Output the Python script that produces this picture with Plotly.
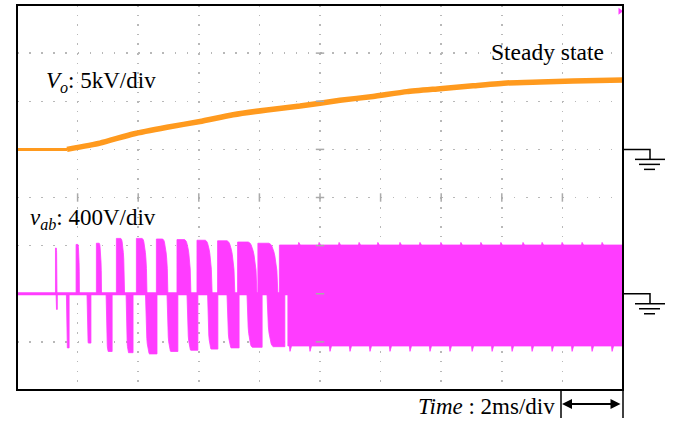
import numpy as np
import plotly.graph_objects as go

# ---------------- data ----------------
TIME_PER_DIV_MS = 2.0
VO_PER_DIV_KV = 5.0
VAB_PER_DIV_V = 400.0
VO_GROUND_DIV = 1.0
VAB_GROUND_DIV = -2.0

# output voltage Vo (kV) vs time (ms)
vo_t_ms = [0.0, 1.65, 2.74, 3.83, 4.95, 6.04, 7.13, 8.25, 9.34, 10.66,
           11.75, 12.87, 13.96, 15.05, 16.17, 17.26, 18.35, 20.0]
vo_kV = [0.0, 0.0, 0.65, 1.6, 2.3, 2.9, 3.6, 4.1, 4.5, 5.1,
         5.5, 6.0, 6.3, 6.6, 6.9, 7.0, 7.1, 7.2]

# vab bursts during start-up (ms, V)
pos_start_ms = [1.27, 1.95, 2.62, 3.28, 3.94, 4.60, 5.28, 5.94, 6.62, 7.28, 7.95]
pos_end_ms = [1.32, 2.06, 2.79, 3.55, 4.29, 4.98, 5.74, 6.44, 7.19, 7.92, 8.61]
pos_amp_V = [380, 410, 420, 460, 460, 455, 450, 445, 440, 430, 420]

neg_start_ms = [1.29, 1.63, 2.31, 2.94, 3.60, 4.24, 4.95, 5.61, 6.29, 6.93, 7.59, 8.25]
neg_end_ms = [1.33, 1.72, 2.44, 3.14, 3.83, 4.62, 5.31, 5.97, 6.63, 7.33, 8.09, 8.84]
neg_amp_V = [130, 450, 410, 480, 490, 500, 480, 470, 460, 450, 445, 440]

# steady switching band
steady_pos_start_ms = 8.66
steady_neg_start_ms = 8.94
steady_pos_V = 405
steady_neg_V = 434
top_bump_ms = [9.3, 9.97, 10.63, 11.29, 11.91, 12.64, 13.30, 13.99, 14.65, 15.31,
               15.97, 16.70, 17.33, 17.99, 18.65, 19.31]
bottom_spike_ms = [9.01, 9.67, 10.33, 10.99, 11.65, 12.31, 12.97, 13.63, 14.29, 15.02,
                   15.68, 16.34, 17.00, 17.66, 18.32, 18.98, 19.64]

ORANGE = "#ff9a1e"
MAGENTA = "#ff3cff"
FONT = "Liberation Serif"

W, H = 679, 421
L, R, T, B = 17, 56, 5, 31
PW, PH = W - L - R, H - T - B


def vo_div(v):
    return VO_GROUND_DIV + v / VO_PER_DIV_KV


def vab_div(v):
    return VAB_GROUND_DIV + v / VAB_PER_DIV_V


# ---------------- build vab burst polygons ----------------
px, py = [], []
s = np.linspace(0, 1, 10)
for t0, t1, a in zip(pos_start_ms, pos_end_ms, pos_amp_V):
    tf = t0 + 0.55 * (t1 - t0)
    px += [t0, t0, tf] + list(tf + s * (t1 - tf)) + [t0, None]
    py += [vab_div(0), vab_div(a), vab_div(a)] + list(vab_div(a * np.sqrt(1 - s ** 2))) + [vab_div(0), None]

for t0, t1, a in zip(neg_start_ms, neg_end_ms, neg_amp_V):
    tr = t0 + 0.35 * (t1 - t0)
    px += [t0] + list(t0 + s * (tr - t0)) + [t1, t1, None]
    py += [vab_div(0)] + list(vab_div(-a * np.sqrt(1 - (1 - s) ** 2))) + [vab_div(-a), vab_div(0), None]

# steady positive band with overshoot bumps
bx = [steady_pos_start_ms, steady_pos_start_ms]
by = [vab_div(0), vab_div(steady_pos_V)]
for tb in top_bump_ms:
    bx += [tb - 0.02, tb, tb + 0.05]
    by += [vab_div(steady_pos_V), vab_div(steady_pos_V + 22), vab_div(steady_pos_V)]
bx += [20, 20, None]
by += [vab_div(steady_pos_V), vab_div(0), None]
px += bx
py += by

# steady negative band with spikes
bx = [steady_neg_start_ms, steady_neg_start_ms]
by = [vab_div(0), vab_div(-steady_neg_V)]
for tb in bottom_spike_ms:
    bx += [tb - 0.02, tb, tb + 0.05]
    by += [vab_div(-steady_neg_V), vab_div(-steady_neg_V - 45), vab_div(-steady_neg_V)]
bx += [20, 20, None]
by += [vab_div(-steady_neg_V), vab_div(0), None]
px += bx
py += by

fig = go.Figure()

fig.add_trace(go.Scatter(x=px, y=py, mode="lines", fill="toself", fillcolor=MAGENTA,
                         line=dict(color=MAGENTA, width=0.8), hoverinfo="skip"))
# vab baseline
fig.add_trace(go.Scatter(x=[0, 20], y=[vab_div(0), vab_div(0)], mode="lines",
                         line=dict(color=MAGENTA, width=3), hoverinfo="skip"))

# Vo trace
vo_y = [vo_div(v) for v in vo_kV]
fig.add_trace(go.Scatter(x=vo_t_ms[:2], y=vo_y[:2], mode="lines",
                         line=dict(color=ORANGE, width=3)))
fig.add_trace(go.Scatter(x=vo_t_ms[1:], y=vo_y[1:], mode="lines",
                         line=dict(color=ORANGE, width=5.5, shape="spline", smoothing=0.5)))

# centre-line major ticks
fig.add_trace(go.Scatter(x=[TIME_PER_DIV_MS * k for k in range(1, 10)], y=[0] * 9, mode="markers",
                         marker=dict(symbol="line-ns", size=6, line=dict(color="#aaaaaa", width=1.5)),
                         hoverinfo="skip"))
fig.add_trace(go.Scatter(x=[10] * 7, y=list(range(-3, 4)), mode="markers",
                         marker=dict(symbol="line-ew", size=6, line=dict(color="#aaaaaa", width=1.5)),
                         hoverinfo="skip"))
# trigger marker
fig.add_trace(go.Scatter(x=[19.9], y=[3.87], mode="markers",
                         marker=dict(symbol="triangle-right", size=6, color=MAGENTA), hoverinfo="skip"))


def pxX(x):
    return (x - L) / PW


def pxY(y):
    return (H - B - y) / PH


shapes = [dict(type="rect", xref="paper", yref="paper", x0=0, x1=1, y0=0, y1=1,
               line=dict(color="black", width=2))]
# scale bar verticals below frame
for xx in (561, 623):
    shapes.append(dict(type="line", xref="paper", yref="paper", x0=pxX(xx), x1=pxX(xx),
                       y0=pxY(390), y1=pxY(418), line=dict(color="black", width=1.5)))
# ground symbols
for gdiv in (VO_GROUND_DIV, VAB_GROUND_DIV):
    gy = T + (4 - gdiv) / 8 * PH
    shapes.append(dict(type="path", xref="paper", yref="paper",
                       path=f"M{pxX(623)},{pxY(gy)} L{pxX(650)},{pxY(gy)} L{pxX(650)},{pxY(gy + 10)}",
                       line=dict(color="black", width=1.5)))
    for (xa, xb, dy) in ((635, 665, 10), (639, 660, 15), (644, 655, 20)):
        shapes.append(dict(type="line", xref="paper", yref="paper", x0=pxX(xa), x1=pxX(xb),
                           y0=pxY(gy + dy), y1=pxY(gy + dy), line=dict(color="black", width=1.5)))

annotations = [
    dict(xref="paper", yref="paper", x=pxX(44), y=pxY(82), xanchor="left", yanchor="middle",
         text="<i>V</i><sub><i>o</i></sub>: 5kV/div", showarrow=False,
         font=dict(family=FONT, size=23, color="black")),
    dict(xref="paper", yref="paper", x=pxX(28), y=pxY(219), xanchor="left", yanchor="middle",
         text="<i>v</i><sub><i>ab</i></sub>: 400V/div", showarrow=False,
         font=dict(family=FONT, size=23, color="black")),
    dict(xref="paper", yref="paper", x=pxX(606), y=pxY(52), xanchor="right", yanchor="middle",
         text="Steady state", showarrow=False,
         font=dict(family=FONT, size=23.5, color="black")),
    dict(xref="paper", yref="paper", x=pxX(557), y=pxY(406), xanchor="right", yanchor="middle",
         text="<i>Time</i> : 2ms/div", showarrow=False,
         font=dict(family=FONT, size=23, color="black")),
    dict(xref="paper", yref="paper", x=pxX(562), y=pxY(404), ax=60, ay=0, axref="pixel", ayref="pixel",
         text="", showarrow=True, arrowhead=2, arrowside="end+start", arrowsize=1, arrowwidth=2,
         arrowcolor="black", standoff=0, startstandoff=0),
]

fig.update_layout(
    width=W, height=H, margin=dict(l=L, r=R, t=T, b=B),
    paper_bgcolor="white", plot_bgcolor="white", showlegend=False,
    shapes=shapes, annotations=annotations,
    xaxis=dict(range=[0, 20], dtick=TIME_PER_DIV_MS, showticklabels=False, ticks="",
               showgrid=True, gridcolor="#b8b8b8", gridwidth=1.5, griddash="1.5px,8.12px",
               zeroline=False, showline=False, fixedrange=True),
    yaxis=dict(range=[-4, 4], dtick=1, showticklabels=False, ticks="",
               showgrid=True, gridcolor="#b8b8b8", gridwidth=1.5, griddash="1.5px,10.62px",
               zeroline=False, showline=False, fixedrange=True),
)

fig.write_html("out.html", config={"displayModeBar": False, "staticPlot": True},
               post_script="document.body.style.margin='0';document.body.style.overflow='hidden';")
